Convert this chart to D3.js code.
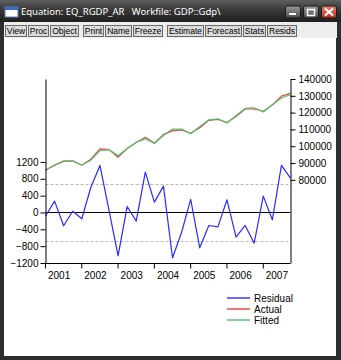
<!DOCTYPE html>
<html>
<head>
<meta charset="utf-8">
<script src="https://cdn.jsdelivr.net/npm/d3@7"></script>
<style>
  body { margin: 0; background: #fff; }
  svg { display: block; }
</style>
</head>
<body>
<script>
// ---- data: quarterly real GDP equation, actual / fitted / residual ----
const quarters = [
  "2001Q1","2001Q2","2001Q3","2001Q4","2002Q1","2002Q2","2002Q3","2002Q4",
  "2003Q1","2003Q2","2003Q3","2003Q4","2004Q1","2004Q2","2004Q3","2004Q4",
  "2005Q1","2005Q2","2005Q3","2005Q4","2006Q1","2006Q2","2006Q3","2006Q4",
  "2007Q1","2007Q2","2007Q3","2007Q4"
];
const years = ["2001","2002","2003","2004","2005","2006","2007"];

const residual = [
  -90, 270, -316, 30, -150, 600, 1117, 50,
  -1030, 143, -207, 958, 245, 625, -1077, -470,
  309, -840, -309, -341, 301, -586, -309, -729,
  388, -174, 1117, 816
];
const fitted = [
  85800, 88500, 91300, 91300, 88800, 91700, 97300, 97900,
  94500, 98500, 102400, 104400, 101600, 106400, 110200, 110200,
  107400, 111800, 115700, 116300, 113800, 118300, 122500, 122900,
  120400, 124700, 128700, 130600
];
const actual = [
  85710, 88770, 90984, 91330, 88650, 92300, 98417, 97950,
  93470, 98643, 102193, 105358, 101845, 107025, 109123, 109730,
  107709, 110960, 115391, 115959, 114101, 117714, 122191, 122171,
  120788, 124526, 129817, 131416
];
const residTicks = [-1200, -800, -400, 0, 400, 800, 1200];
const levelTicks = [80000, 90000, 100000, 110000, 120000, 130000, 140000];
const seBand = 685;   // +/- one standard error of regression
const seriesNames = ["Residual", "Actual", "Fitted"];

const toolbarGroups = [
  ["View", "Proc", "Object"],
  ["Print", "Name", "Freeze"],
  ["Estimate", "Forecast", "Stats", "Resids"]
];
const windowTitle = "Equation: EQ_RGDP_AR   Workfile: GDP::Gdp\\";

// ---- styling ----
const W = 341, H = 360;
const colors = { Residual: "#2b2bff", Actual: "#f04040", Fitted: "#4cc472" };
const axisFont = "'Liberation Sans', Arial, sans-serif";

const svg = d3.select("body").append("svg")
  .attr("width", W).attr("height", H);

const defs = svg.append("defs");
const tg = defs.append("linearGradient").attr("id", "titleGrad")
  .attr("x1", 0).attr("y1", 0).attr("x2", 0).attr("y2", 1);
tg.append("stop").attr("offset", "0%").attr("stop-color", "#5e5e5e");
tg.append("stop").attr("offset", "45%").attr("stop-color", "#383838");
tg.append("stop").attr("offset", "100%").attr("stop-color", "#1f1f1f");
const bg = defs.append("linearGradient").attr("id", "capGrad")
  .attr("x1", 0).attr("y1", 0).attr("x2", 0).attr("y2", 1);
bg.append("stop").attr("offset", "0%").attr("stop-color", "#9a9a9a");
bg.append("stop").attr("offset", "100%").attr("stop-color", "#4a4a4a");
const cg = defs.append("linearGradient").attr("id", "closeGrad")
  .attr("x1", 0).attr("y1", 0).attr("x2", 0).attr("y2", 1);
cg.append("stop").attr("offset", "0%").attr("stop-color", "#e8806a");
cg.append("stop").attr("offset", "100%").attr("stop-color", "#c0301c");

// ---- window frame ----
svg.append("rect").attr("width", W).attr("height", H).attr("fill", "#2e2e2e");
svg.append("rect").attr("width", W).attr("height", 22).attr("fill", "url(#titleGrad)");

// window icon
const icon = svg.append("g").attr("transform", "translate(5,7)");
icon.append("rect").attr("width", 13).attr("height", 10).attr("fill", "#fff").attr("stroke", "#5a7fb8");
icon.append("rect").attr("width", 13).attr("height", 3).attr("fill", "#3b6bc0");

svg.append("text")
  .attr("x", 21).attr("y", 15)
  .attr("fill", "#fff")
  .style("white-space", "pre")
  .attr("font-family", "'Noto Sans', 'Open Sans', sans-serif")
  .attr("font-size", 9.5)
  .text(windowTitle);

// caption buttons
function capButton(x, fill) {
  return svg.append("rect").attr("x", x).attr("y", 6).attr("width", 15).attr("height", 12)
    .attr("rx", 2).attr("fill", fill).attr("stroke", "#1a1a1a");
}
capButton(285.5, "url(#capGrad)");
svg.append("rect").attr("x", 289).attr("y", 13).attr("width", 7).attr("height", 2).attr("fill", "#fff");
capButton(303.5, "url(#capGrad)");
svg.append("rect").attr("x", 307.5).attr("y", 9.5).attr("width", 7).attr("height", 6)
  .attr("fill", "none").attr("stroke", "#fff").attr("stroke-width", 1.5);
capButton(321.5, "url(#closeGrad)");
svg.append("path").attr("d", "M325,8.5 L333,15.5 M333,8.5 L325,15.5")
  .attr("stroke", "#fff").attr("stroke-width", 2);

// toolbar
svg.append("rect").attr("x", 4).attr("y", 22).attr("width", 333).attr("height", 16).attr("fill", "#ededed");
svg.append("rect").attr("x", 4).attr("y", 38).attr("width", 332).attr("height", 318).attr("fill", "#fff");

let bx = 5;
toolbarGroups.forEach(grp => {
  grp.forEach(name => {
    const g = svg.append("g");
    const t = g.append("text")
      .attr("font-family", axisFont).attr("font-size", 8.5).attr("fill", "#000")
      .attr("y", 34).text(name);
    const tw = t.node().getComputedTextLength();
    const bw = Math.round(tw + 3);
    g.insert("rect", "text")
      .attr("x", bx + 0.5).attr("y", 25.5).attr("width", bw).attr("height", 11)
      .attr("fill", "#dcdcdc").attr("stroke", "#6a6a6a");
    t.attr("x", bx + 0.5 + bw / 2).attr("text-anchor", "middle");
    bx += bw + 2;
  });
  bx += 3;
});

// ---- chart ----
const x = d3.scalePoint().domain(quarters).range([45.5, 290.5]);
const yRes = d3.scaleLinear().domain([-1200, 3170]).range([263, 79]);
const yLev = d3.scaleLinear().domain([30500, 140000]).range([263, 79]);
const [x0, x1] = x.range();

const chart = svg.append("g");

// standard error band lines
chart.selectAll("line.se").data([seBand, -seBand]).join("line")
  .attr("class", "se")
  .attr("x1", x0).attr("x2", x1)
  .attr("y1", d => Math.round(yRes(d)) + 0.5).attr("y2", d => Math.round(yRes(d)) + 0.5)
  .attr("stroke", "#b8b8b8").attr("stroke-dasharray", "3,2");

// zero line
chart.append("line")
  .attr("x1", x0).attr("x2", x1)
  .attr("y1", Math.round(yRes(0)) + 0.5).attr("y2", Math.round(yRes(0)) + 0.5)
  .attr("stroke", "#000");

// series lines
const series = [
  { name: "Actual", values: actual, y: yLev },
  { name: "Fitted", values: fitted, y: yLev },
  { name: "Residual", values: residual, y: yRes }
];
series.forEach(s => {
  const line = d3.line().x((d, i) => x(quarters[i])).y(d => s.y(d));
  chart.append("path").datum(s.values)
    .attr("d", line)
    .attr("fill", "none")
    .attr("stroke", colors[s.name])
    .attr("stroke-width", 1.2)
    .attr("stroke-linejoin", "round");
});

// left axis (residual)
const leftAxis = chart.append("g").attr("transform", `translate(${x0},0)`)
  .call(d3.axisLeft(yRes).tickValues(residTicks).tickSize(5).tickSizeOuter(0).tickPadding(2)
    .tickFormat(d3.format("d")));
// right axis (actual / fitted)
const rightAxis = chart.append("g").attr("transform", `translate(${x1},0)`)
  .call(d3.axisRight(yLev).tickValues(levelTicks).tickSize(5).tickSizeOuter(0).tickPadding(3)
    .tickFormat(d3.format("d")));
[leftAxis, rightAxis].forEach(a => {
  a.selectAll("text").attr("font-family", axisFont).attr("font-size", 10).attr("fill", "#000");
  a.selectAll("line, path").attr("stroke", "#000");
});

// bottom axis: year ticks at Q1, labels centred on each year
const yearStarts = quarters.filter(q => q.endsWith("Q1"));
const bottom = chart.append("g").attr("transform", "translate(0,263.5)");
bottom.append("line").attr("x1", x0).attr("x2", x1).attr("stroke", "#000");
bottom.selectAll("line.tick").data(yearStarts).join("line")
  .attr("class", "tick")
  .attr("x1", d => x(d)).attr("x2", d => x(d))
  .attr("y1", 0).attr("y2", 5).attr("stroke", "#000");
bottom.selectAll("text").data(years).join("text")
  .attr("x", d => x(d + "Q1") + 1.5 * x.step())
  .attr("y", 15.5)
  .attr("text-anchor", "middle")
  .attr("font-family", axisFont).attr("font-size", 10).attr("fill", "#000")
  .text(d => d);

// legend
const legend = svg.append("g").attr("transform", "translate(227,298)");
seriesNames.forEach((name, i) => {
  legend.append("line")
    .attr("x1", 0).attr("x2", 23).attr("y1", i * 11).attr("y2", i * 11)
    .attr("stroke", colors[name]).attr("stroke-width", 2).attr("opacity", 0.7);
  legend.append("text")
    .attr("x", 27).attr("y", i * 11 + 3.5)
    .attr("font-family", axisFont).attr("font-size", 10).attr("fill", "#000")
    .text(name);
});
</script>
</body>
</html>
